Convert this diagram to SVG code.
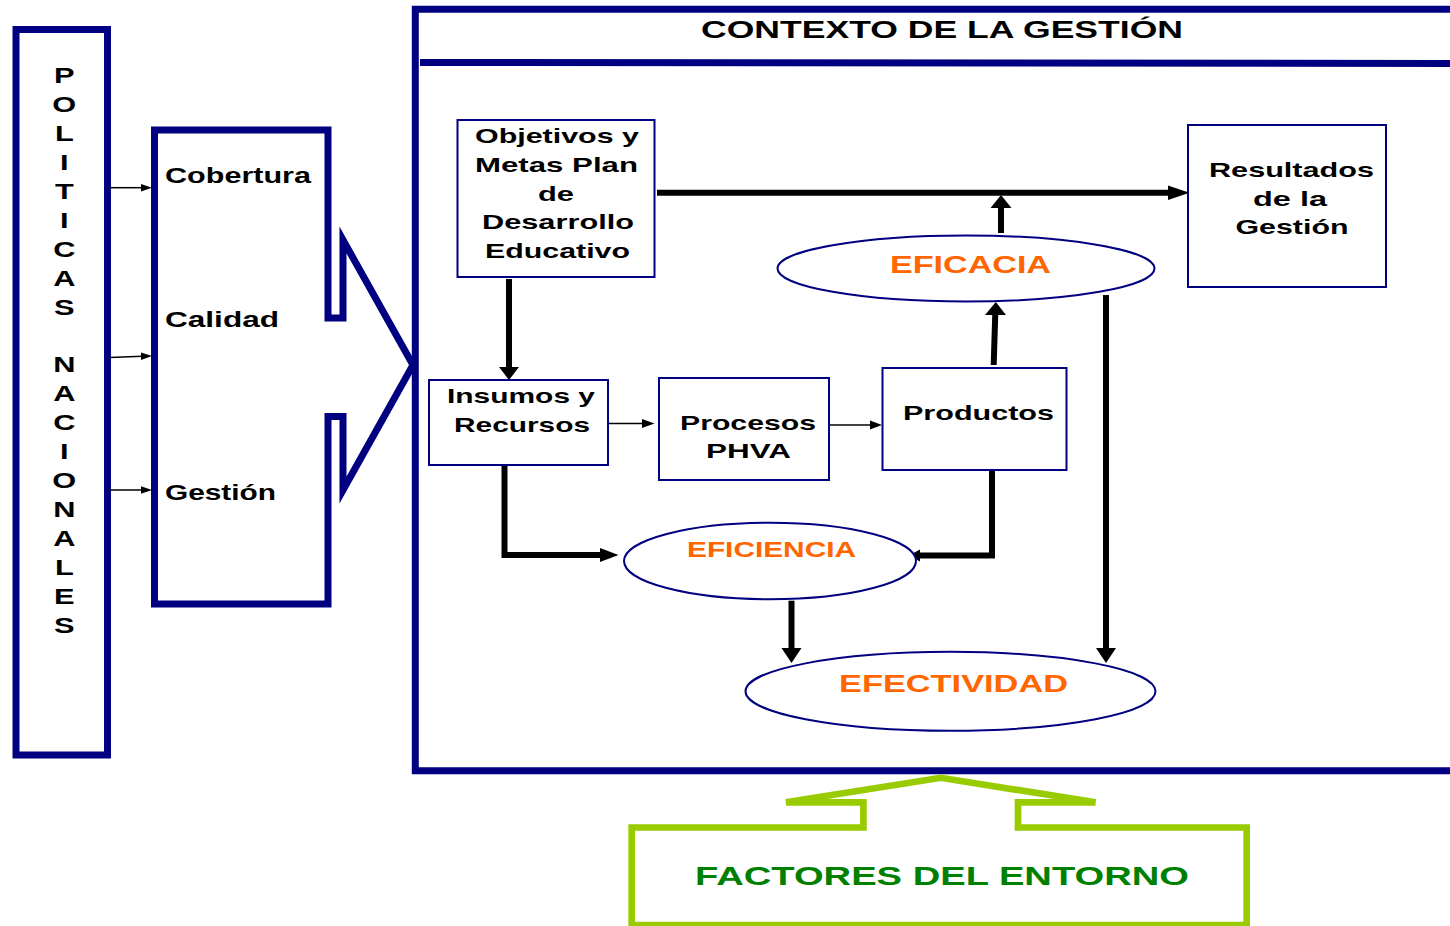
<svg xmlns="http://www.w3.org/2000/svg" width="1450" height="926" viewBox="0 0 1450 926">
<style>
.nav{fill:none;stroke:#000080;stroke-width:7}
.navf{fill:#fff;stroke:#000080;stroke-width:7}
.box{fill:#fff;stroke:#000080;stroke-width:2}
.t{font-family:"Liberation Sans",Arial,sans-serif;font-weight:bold;fill:#000}
.s21{font-size:21px}
.s22{font-size:22px}
.o{fill:#FF6600}
.thick{fill:none;stroke:#000;stroke-width:6}
.thin{fill:none;stroke:#000;stroke-width:1.5}
.ah{fill:#000}
.grn{fill:#fff;stroke:#99CC00;stroke-width:6.7}
</style>
<rect width="1450" height="926" fill="#fff"/>

<g id="politicas">
<rect class="navf" x="16" y="29.5" width="91.5" height="725.5"/>
<g transform="translate(64.3 0) scale(1.4 1)">
<text class="t s22" text-anchor="middle">
<tspan x="0" y="83">P</tspan><tspan x="0" y="112">O</tspan><tspan x="0" y="141">L</tspan><tspan x="0" y="170">I</tspan><tspan x="0" y="199">T</tspan><tspan x="0" y="228">I</tspan><tspan x="0" y="257">C</tspan><tspan x="0" y="286">A</tspan><tspan x="0" y="315">S</tspan><tspan x="0" y="372">N</tspan><tspan x="0" y="401">A</tspan><tspan x="0" y="430">C</tspan><tspan x="0" y="459">I</tspan><tspan x="0" y="488">O</tspan><tspan x="0" y="517">N</tspan><tspan x="0" y="546">A</tspan><tspan x="0" y="575">L</tspan><tspan x="0" y="604">E</tspan><tspan x="0" y="633">S</tspan>
</text>
</g>
</g>

<g id="contexto">
<path class="nav" d="M1460,9.2 H415.3 V770.7 H1460"/>
<line x1="420" y1="62.5" x2="1450" y2="63.5" stroke="#000080" stroke-width="7"/>
<text class="t" font-size="23" x="701" y="37.5" textLength="482" lengthAdjust="spacingAndGlyphs">CONTEXTO DE LA GESTIÓN</text>
</g>

<g id="dimensiones">
<path class="navf" d="M154.5,130 H328 V318 H343 V240 L413,365 L343,490 V416.5 H328 V604 H154.5 Z"/>
<text class="t s22" x="165" y="183" textLength="146" lengthAdjust="spacingAndGlyphs">Cobertura</text>
<text class="t s22" x="165" y="327" textLength="114" lengthAdjust="spacingAndGlyphs">Calidad</text>
<text class="t s22" x="165" y="500" textLength="111" lengthAdjust="spacingAndGlyphs">Gestión</text>
</g>

<g id="connectors">
<line class="thin" x1="110" y1="187.7" x2="142" y2="187.7"/>
<polygon class="ah" points="141,184 141,191.4 152,187.7"/>
<line class="thin" x1="110" y1="357.5" x2="142" y2="356.3"/>
<polygon class="ah" points="141,352.6 141,360 152,356"/>
<line class="thin" x1="110" y1="490" x2="142" y2="490"/>
<polygon class="ah" points="141,486.3 141,493.7 152,490"/>

<line class="thin" x1="609" y1="423.5" x2="643" y2="423.5"/>
<polygon class="ah" points="642,419 642,428 654.5,423.5"/>
<line class="thin" x1="830" y1="425" x2="871" y2="425"/>
<polygon class="ah" points="870,420.5 870,429.5 882,425"/>

<line class="thick" x1="509" y1="279" x2="509" y2="368"/>
<polygon class="ah" points="499,367 519,367 509,380"/>

<line class="thick" stroke-width="5" x1="657" y1="192.7" x2="1170" y2="192.7"/>
<polygon class="ah" points="1168,185.5 1168,200 1189.5,192.7"/>

<line class="thick" x1="1001" y1="233" x2="1001" y2="207"/>
<polygon class="ah" points="990.5,208 1011.5,208 1001,195"/>

<line class="thick" x1="993.7" y1="365" x2="995.3" y2="313"/>
<polygon class="ah" points="985,315 1006,315 995.8,302"/>

<line class="thick" x1="1106" y1="295" x2="1106" y2="649"/>
<polygon class="ah" points="1096,648 1116,648 1106,663"/>

<line class="thick" x1="791.5" y1="600.7" x2="791.5" y2="649"/>
<polygon class="ah" points="781.5,648 801.5,648 791.5,663"/>

<path class="thick" d="M504.5,466 V555 H602"/>
<polygon class="ah" points="600,548 600,562 618.5,555"/>

<path class="thick" d="M992,470 V555.5 H918"/>
<polygon class="ah" points="920,549.5 920,561.5 909,555.5"/>
</g>

<g id="objetivos">
<rect class="box" x="457.5" y="120" width="197" height="157"/>
<text class="t s21" x="475" y="143.3" textLength="164" lengthAdjust="spacingAndGlyphs">Objetivos y</text>
<text class="t s21" x="475" y="172.3" textLength="163" lengthAdjust="spacingAndGlyphs">Metas Plan</text>
<text class="t s21" x="538" y="200.5" textLength="36" lengthAdjust="spacingAndGlyphs">de</text>
<text class="t s21" x="482" y="229" textLength="152" lengthAdjust="spacingAndGlyphs">Desarrollo</text>
<text class="t s21" x="485" y="257.7" textLength="145" lengthAdjust="spacingAndGlyphs">Educativo</text>
</g>

<g id="insumos">
<rect class="box" x="429" y="380" width="179" height="85"/>
<text class="t s21" x="447" y="403.3" textLength="148" lengthAdjust="spacingAndGlyphs">Insumos y</text>
<text class="t s21" x="454" y="431.7" textLength="136" lengthAdjust="spacingAndGlyphs">Recursos</text>
</g>

<g id="procesos">
<rect class="box" x="659" y="378" width="170" height="102"/>
<text class="t s21" x="680" y="430" textLength="136" lengthAdjust="spacingAndGlyphs">Procesos</text>
<text class="t s21" x="706" y="458.3" textLength="85" lengthAdjust="spacingAndGlyphs">PHVA</text>
</g>

<g id="productos">
<rect class="box" x="882.5" y="368" width="184" height="102"/>
<text class="t s21" x="903" y="420" textLength="151" lengthAdjust="spacingAndGlyphs">Productos</text>
</g>

<g id="resultados">
<rect class="box" x="1188" y="125" width="198" height="162"/>
<text class="t s21" x="1209" y="176.7" textLength="165" lengthAdjust="spacingAndGlyphs">Resultados</text>
<text class="t s21" x="1253" y="206" textLength="74" lengthAdjust="spacingAndGlyphs">de  la</text>
<text class="t s21" x="1235.5" y="234" textLength="113" lengthAdjust="spacingAndGlyphs">Gestión</text>
</g>

<g id="eficacia">
<ellipse class="box" cx="966" cy="268.5" rx="188.5" ry="33"/>
<text class="t o" font-size="23" x="890" y="273.3" textLength="161" lengthAdjust="spacingAndGlyphs">EFICACIA</text>
</g>

<g id="eficiencia">
<ellipse class="box" cx="770" cy="561" rx="146" ry="38.3"/>
<text class="t o" font-size="22" x="687" y="556.7" textLength="169" lengthAdjust="spacingAndGlyphs">EFICIENCIA</text>
</g>

<g id="efectividad">
<ellipse class="box" cx="950.5" cy="691.3" rx="205" ry="39.5"/>
<text class="t o" font-size="24.5" x="839" y="691.7" textLength="229" lengthAdjust="spacingAndGlyphs">EFECTIVIDAD</text>
</g>

<g id="factores">
<path class="grn" d="M631.7,827.5 H863.4 V802.3 H786 L940.8,777.8 L1095.5,802.3 H1018 V827.5 H1246.7 V925 H631.7 Z"/>
<text class="t" style="fill:#008000" font-size="26.5" x="695" y="885" textLength="494" lengthAdjust="spacingAndGlyphs">FACTORES DEL ENTORNO</text>
</g>
</svg>
